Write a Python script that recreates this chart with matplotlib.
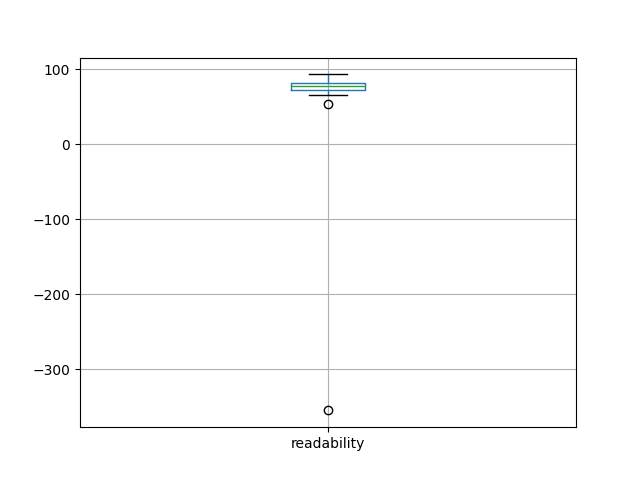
import matplotlib
matplotlib.use("Agg")
import matplotlib.pyplot as plt
import pandas as pd

# Readability scores
readability = [-354.7, 53.3, 65.7, 71.6, 73.5, 75.9, 77.7, 79.0, 80.5, 81.7, 85.0, 88.6, 92.9]

df = pd.DataFrame({"readability": readability})

fig, ax = plt.subplots(figsize=(6.4, 4.8), dpi=100)
df.boxplot(ax=ax)
fig.savefig("out.png")
